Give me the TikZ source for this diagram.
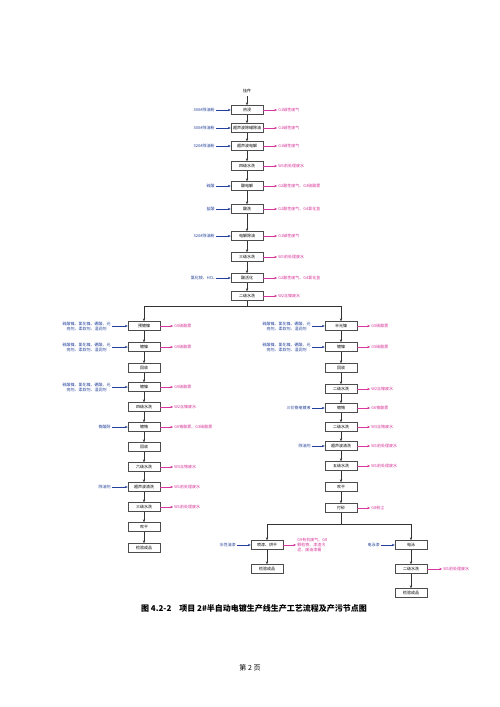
\documentclass[tikz,border=0pt]{standalone}
\usepackage{fontspec}
\setmainfont{Noto Sans CJK SC}
\usetikzlibrary{positioning,arrows.meta}
\definecolor{inblue}{RGB}{35,65,155}
\definecolor{outpink}{RGB}{215,55,155}

\begin{document}
\begin{tikzpicture}[x=1pt,y=-1pt,>={Stealth[length=3pt,width=2.4pt]},
  font=\fontsize{4}{5}\selectfont,
  box/.style={draw=black!70,line width=0.4pt,minimum width=32pt,minimum height=9pt,inner sep=1pt,align=center},
  inp/.style={text=inblue,align=center,inner sep=1pt},
  outp/.style={text=outpink,align=left,inner sep=1pt},
  inarr/.style={->,draw=inblue,line width=0.5pt},
  outarr/.style={->,draw=outpink,line width=0.5pt},
  flow/.style={->,draw=black!80,line width=0.5pt},
  flowline/.style={draw=black!80,line width=0.5pt}]
  \useasboundingbox[fill=white] (0,0) rectangle (500,707);

  % main line
  \node (gj) at (247,91) {挂件};
  \node[box] (m1)  at (247,110) {热浸};
  \node[box] (m2)  at (247,128) {超声波除蜡除油};
  \node[box] (m3)  at (247,146) {超声波电解};
  \node[box] (m4)  at (247,166) {四级水洗};
  \node[box] (m5)  at (247,186) {酸电解};
  \node[box] (m6)  at (247,209) {酸洗};
  \node[box] (m7)  at (247,236) {电解除油};
  \node[box] (m8)  at (247,257) {三级水洗};
  \node[box] (m9)  at (247,278) {酸活化};
  \node[box] (m10) at (247,296) {二级水洗};

  \node[inp,left=15pt of m1] (im1) {300\#除油粉};
  \node[inp,left=15pt of m2] (im2) {300\#除油粉};
  \node[inp,left=15pt of m3] (im3) {320\#除油粉};
  \node[inp,left=15pt of m5] (im5) {硫酸};
  \node[inp,left=15pt of m6] (im6) {盐酸};
  \node[inp,left=15pt of m7] (im7) {320\#除油粉};
  \node[inp,left=15pt of m9] (im9) {氯化铵、HCL};
  \foreach \i in {1,2,3,5,6,7,9} \draw[inarr] (im\i) -- (m\i);

  \node[outp,right=14pt of m1]  (om1)  {G1碱性废气};
  \node[outp,right=14pt of m2]  (om2)  {G1碱性废气};
  \node[outp,right=14pt of m3]  (om3)  {G1碱性废气};
  \node[outp,right=14pt of m4]  (om4)  {W1前处理废水};
  \node[outp,right=14pt of m5]  (om5)  {G2酸性废气、G3硫酸雾};
  \node[outp,right=14pt of m6]  (om6)  {G2酸性废气、G4氯化氢};
  \node[outp,right=14pt of m7]  (om7)  {G1碱性废气};
  \node[outp,right=14pt of m8]  (om8)  {W1前处理废水};
  \node[outp,right=14pt of m9]  (om9)  {G2酸性废气、G4氯化氢};
  \node[outp,right=14pt of m10] (om10) {W2含镍废水};
  \foreach \i in {1,...,10} \draw[outarr] (m\i) -- (om\i);

  \draw[flow] (gj) -- (m1);
  \foreach \a/\b in {1/2,2/3,3/4,4/5,5/6,6/7,7/8,8/9,9/10} \draw[flow] (m\a) -- (m\b);

  % left branch
  \node[box] (l1)  at (144,326) {预镀镍};
  \node[box] (l2)  at (144,347) {镀镍};
  \node[box] (l3)  at (144,368) {回收};
  \node[box] (l4)  at (144,387) {镀镍};
  \node[box] (l5)  at (144,407) {四级水洗};
  \node[box] (l6)  at (144,427) {镀铬};
  \node[box] (l7)  at (144,447) {回收};
  \node[box] (l8)  at (144,467) {六级水洗};
  \node[box] (l9)  at (144,487) {超声波清洗};
  \node[box] (l10) at (144,507) {三级水洗};
  \node[box] (l11) at (144,527) {吹干};
  \node[box] (l12) at (144,548) {检验成品};

  \node[inp,left=16pt of l1] (il1) {硫酸镍、氯化镍、硼酸、光\\亮剂、柔软剂、湿润剂};
  \node[inp,left=16pt of l2] (il2) {硫酸镍、氯化镍、硼酸、光\\亮剂、柔软剂、湿润剂};
  \node[inp,left=16pt of l4] (il4) {硫酸镍、氯化镍、硼酸、光\\亮剂、柔软剂、湿润剂};
  \node[inp,left=16pt of l6] (il6) {铬酸酐};
  \node[inp,left=16pt of l9] (il9) {除油剂};
  \foreach \i in {1,2,4,6,9} \draw[inarr] (il\i) -- (l\i);

  \node[outp,right=13pt of l1]  (ol1)  {G5硫酸雾};
  \node[outp,right=13pt of l2]  (ol2)  {G5硫酸雾};
  \node[outp,right=13pt of l4]  (ol4)  {G5硫酸雾};
  \node[outp,right=13pt of l5]  (ol5)  {W2含镍废水};
  \node[outp,right=13pt of l6]  (ol6)  {G6铬酸雾、G3硫酸雾};
  \node[outp,right=13pt of l8]  (ol8)  {W3含铬废水};
  \node[outp,right=13pt of l9]  (ol9)  {W1前处理废水};
  \node[outp,right=13pt of l10] (ol10) {W1前处理废水};
  \foreach \i in {1,2,4,5,6,8,9,10} \draw[outarr] (l\i) -- (ol\i);
  \foreach \a/\b in {1/2,2/3,3/4,4/5,5/6,6/7,7/8,8/9,9/10,10/11,11/12} \draw[flow] (l\a) -- (l\b);

  % right branch
  \node[box] (r1)  at (341,326) {半光镍};
  \node[box] (r2)  at (341,347) {镀镍};
  \node[box] (r3)  at (341,368) {回收};
  \node[box] (r4)  at (341,389) {二级水洗};
  \node[box] (r5)  at (341,408) {镀铬};
  \node[box] (r6)  at (341,427) {二级水洗};
  \node[box] (r7)  at (341,446) {超声波清洗};
  \node[box] (r8)  at (341,466) {五级水洗};
  \node[box] (r9)  at (341,487) {吹干};
  \node[box] (r10) at (341,508) {打砂};

  \node[inp,left=13pt of r1] (ir1) {硫酸镍、氯化镍、硼酸、光\\亮剂、柔软剂、湿润剂};
  \node[inp,left=13pt of r2] (ir2) {硫酸镍、氯化镍、硼酸、光\\亮剂、柔软剂、湿润剂};
  \node[inp,left=13pt of r5] (ir5) {三价铬电镀液};
  \node[inp,left=13pt of r7] (ir7) {除油剂};
  \foreach \i in {1,2,5,7} \draw[inarr] (ir\i) -- (r\i);

  \node[outp,right=13pt of r1]  (or1)  {G5硫酸雾};
  \node[outp,right=13pt of r2]  (or2)  {G5硫酸雾};
  \node[outp,right=13pt of r4]  (or4)  {W2含镍废水};
  \node[outp,right=13pt of r5]  (or5)  {G6铬酸雾};
  \node[outp,right=13pt of r6]  (or6)  {W3含铬废水};
  \node[outp,right=13pt of r7]  (or7)  {W1前处理废水};
  \node[outp,right=13pt of r8]  (or8)  {W1前处理废水};
  \node[outp,right=13pt of r10] (or10) {G8粉尘};
  \foreach \i in {1,2,4,5,6,7,8,10} \draw[outarr] (r\i) -- (or\i);
  \foreach \a/\b in {1/2,2/3,3/4,4/5,5/6,6/7,7/8,8/9,9/10} \draw[flow] (r\a) -- (r\b);

  % split after main line
  \coordinate (bm) at (247,306);
  \draw[flowline] (m10) -- (bm);
  \draw[flow] (bm) -| (l1);
  \draw[flow] (bm) -| (r1);

  % painting / electrophoresis
  \node[box] (p1) at (267,545) {喷漆、烘干};
  \node[box] (p2) at (267,569) {检验成品};
  \node[box] (e1) at (411,545) {电泳};
  \node[box] (e2) at (411,569) {二级水洗};
  \node[box] (e3) at (411,593) {检验成品};

  \node[inp,left=14pt of p1] (ip1) {水性油漆};
  \node[inp,left=14pt of e1] (ie1) {电泳漆};
  \draw[inarr] (ip1) -- (p1);
  \draw[inarr] (ie1) -- (e1);
  \node[outp,right=13pt of p1] (op1) {G9有机废气、G8\\颗粒物、漆渣污\\泥、废油漆桶};
  \node[outp,right=15pt of e2] (oe2) {W1前处理废水};
  \draw[outarr] (p1) -- (op1);
  \draw[outarr] (e2) -- (oe2);

  \coordinate (sp) at (341,524);
  \draw[flowline] (r10) -- (sp);
  \draw[flow] (sp) -| (p1);
  \draw[flow] (sp) -| (e1);
  \draw[flow] (p1) -- (p2);
  \draw[flow] (e1) -- (e2);
  \draw[flow] (e2) -- (e3);

  \node[font=\fontsize{8}{10}\selectfont\bfseries] (cap) at (254,608)
    {图 4.2-2\quad 项目 2\#半自动电镀生产线生产工艺流程及产污节点图};
  \node[font=\fontsize{7}{9}\selectfont] (pg) at (250,668) {第 2 页};
\end{tikzpicture}
\end{document}
